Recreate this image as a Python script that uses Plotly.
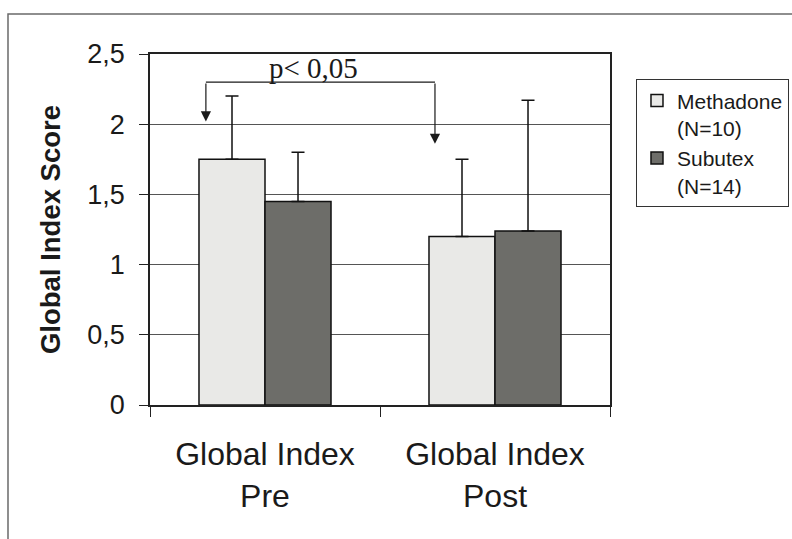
import plotly.graph_objects as go

# Group labels and series values
categories = ["Global Index<br>Pre", "Global Index<br>Post"]
methadone_mean = [1.75, 1.20]
methadone_sd = [0.45, 0.55]
subutex_mean = [1.45, 1.24]
subutex_sd = [0.35, 0.93]
series_names = ["Methadone<br>(N=10)", "Subutex<br>(N=14)"]
y_ticks = [0, 0.5, 1, 1.5, 2, 2.5]
p_label = "p< 0,05"

SANS = "Liberation Sans, Arial, sans-serif"
SERIF = "Liberation Serif, Times New Roman, serif"
INK = "#1a1a1a"

fig = go.Figure()
fig.add_trace(go.Bar(
    x=categories, y=methadone_mean, name=series_names[0],
    marker=dict(color="#e9e9e7", line=dict(color="#111111", width=1.5)),
    error_y=dict(type="data", array=methadone_sd, symmetric=False,
                 arrayminus=[0, 0], color="#111111", thickness=1.5, width=6.5),
))
fig.add_trace(go.Bar(
    x=categories, y=subutex_mean, name=series_names[1],
    marker=dict(color="#6d6d69", line=dict(color="#111111", width=1.5)),
    error_y=dict(type="data", array=subutex_sd, symmetric=False,
                 arrayminus=[0, 0], color="#111111", thickness=1.5, width=6.5),
))

# significance bracket between the two Methadone bars
bracket_y = 2.30
left_x, right_x = -0.257, 0.739
fig.add_shape(type="line", xref="x", yref="y", x0=left_x, x1=right_x,
              y0=bracket_y, y1=bracket_y, line=dict(color=INK, width=1.2))
for ax_x, tip_y in [(left_x, 2.02), (right_x, 1.86)]:
    fig.add_annotation(x=ax_x, y=tip_y, ax=ax_x, ay=bracket_y,
                       xref="x", yref="y", axref="x", ayref="y",
                       showarrow=True, arrowhead=2, arrowsize=1.7,
                       arrowwidth=1.2, arrowcolor=INK, text="")
fig.add_annotation(x=0.212, y=2.40, xref="x", yref="y", text=p_label,
                   showarrow=False, font=dict(family=SERIF, size=29, color=INK))

# outer chart frame
fig.add_shape(type="rect", xref="paper", yref="paper",
              x0=-0.3087, x1=1.45, y0=-0.45, y1=1.114,
              line=dict(color="#6a6a6a", width=1.5), layer="below")

fig.update_layout(
    width=792, height=539,
    margin=dict(l=150, r=182, t=54, b=134, autoexpand=False),
    paper_bgcolor="white", plot_bgcolor="white",
    separators=",.",
    barmode="group", bargap=0.426, bargroupgap=0,
    font=dict(family=SANS, color=INK),
    showlegend=True,
    legend=dict(x=1.0565, y=0.928, xanchor="left", yanchor="top",
                font=dict(family=SANS, size=21, color=INK),
                bordercolor="#333333", borderwidth=1, bgcolor="white",
                valign="top", tracegroupgap=0, itemwidth=30),
    xaxis=dict(range=[-0.5, 1.5], showline=True, linecolor="#222222",
               linewidth=1.5, mirror=True, ticks="outside",
               tickson="boundaries", ticklen=10, tickcolor="#222222",
               tickfont=dict(family=SANS, size=32, color=INK),
               ticklabelstandoff=20, showgrid=False, automargin=False),
    yaxis=dict(range=[0, 2.5], tickvals=y_ticks, showline=True,
               linecolor="#222222", linewidth=1.5, mirror=True,
               ticks="outside", ticklen=9, tickcolor="#222222",
               tickfont=dict(family=SANS, size=27, color=INK),
               ticklabelstandoff=9, automargin=False,
               showgrid=True, gridcolor="#555555", gridwidth=1,
               zeroline=False,
               title=dict(text="<b>Global Index Score</b>", standoff=19,
                          font=dict(family=SANS, size=27.5, color=INK))),
)

fig.write_html("out.html")
